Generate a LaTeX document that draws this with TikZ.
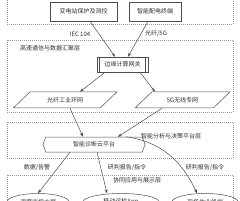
\documentclass[tikz,border=0pt]{standalone}
\usepackage{fontspec}
\usepackage{tikz}
\usetikzlibrary{arrows.meta, positioning, shapes.geometric, shapes.symbols}
\newfontfamily\cjk{Noto Sans CJK SC}
\definecolor{linegray}{HTML}{4D4D4D}
\definecolor{layergray}{HTML}{9A9A9A}
\definecolor{textgray}{HTML}{303030}

\begin{document}
\begin{tikzpicture}[
  x=1pt, y=-1pt,
  every node/.style = {font=\cjk\fontsize{6}{7}\selectfont, text=textgray},
  layer/.style = {draw=layergray, dash pattern=on 1pt off 1pt, line width=0.5pt},
  box/.style = {
    rectangle, draw=linegray, line width=0.6pt,
    minimum height=19pt, inner sep=1pt
  },
  gate/.style = {
    rectangle, draw=linegray, line width=0.6pt,
    minimum width=51pt, minimum height=15pt, inner sep=1pt
  },
  net/.style = {
    trapezium, trapezium left angle=40, trapezium right angle=140,
    trapezium stretches=true, draw=linegray, line width=0.5pt,
    minimum height=16pt, inner sep=1pt
  },
  cloud/.style = {
    signal, signal to=west and east, signal pointer angle=140,
    draw=linegray, line width=0.5pt,
    minimum width=102pt, minimum height=15pt, inner sep=1pt
  },
  app/.style = {
    ellipse, draw=linegray, line width=0.5pt,
    minimum height=17pt, inner sep=1pt
  },
  tag/.style = {inner sep=1pt},
  arr/.style = {-{Stealth[length=4pt, width=3pt]}, line width=0.5pt, color=linegray}
]
  \useasboundingbox (0,0) rectangle (240,200);
  \clip (0,0) rectangle (240,200);

  % layers
  \draw[layer] (7,-10) rectangle (233,24);
  \draw[layer] (7,40) rectangle (233,112);
  \draw[layer] (7,122) rectangle (233,158);
  \draw[layer] (7,175) rectangle (233,220);

  \node[tag, anchor=west] (t2) at (19,48)  {高速通信与数据汇聚层};
  \node[tag]              (t3) at (171,136) {智能分析与决策平台层};
  \node[tag]              (t4) at (137,180) {协同应用与展示层};

  % devices
  \node[box, minimum width=67pt] (prot) at (83.5,11.5) {变电站保护及测控};
  \node[box, minimum width=52pt] (dtu)  at (155,11.5)  {智能配电终端};

  \node[gate] (gw) at (122.5,64.5) {边缘计算网关};
  \draw[linegray, line width=0.5pt] ([xshift=3pt]gw.north west) -- ([xshift=3pt]gw.south west);
  \draw[linegray, line width=0.5pt] ([xshift=-3pt]gw.north east) -- ([xshift=-3pt]gw.south east);

  \node[net, minimum width=104pt] (ring) at (65,100)    {光纤工业环网};
  \node[net, minimum width=95pt]  (g5)   at (182.5,100) {5G无线专网};

  \node[cloud] (cp) at (94,144.5) {智能诊断云平台};

  \node[app, minimum width=62pt] (scr) at (38,202)  {调度监控大屏};
  \node[app, minimum width=76pt] (mob) at (121,202) {移动运检App};
  \node[app, minimum width=66pt] (fld) at (205,202) {现场作业终端};

  % links
  \draw[arr] ([xshift=6.5pt]prot.south) -- ([xshift=-7.5pt]gw.north);
  \draw[arr] ([xshift=-7pt]dtu.south)   -- ([xshift=5.5pt]gw.north);
  \node[tag] (l1) at (80,34)  {IEC 104};
  \node[tag] (l2) at (156,34) {光纤/5G};

  \draw[arr] ([xshift=-17.5pt]gw.south) -- ([xshift=15pt]ring.north);
  \draw[arr] ([xshift=17.5pt]gw.south)  -- ([xshift=-27.5pt]g5.north);

  \draw[arr] ([xshift=5pt]ring.south)  -- ([xshift=-11pt]cp.north);
  \draw[arr] ([xshift=-20.5pt]g5.south) -- ([xshift=24pt]cp.north);

  \draw[arr] ([xshift=-24pt]cp.south) -- (scr.north);
  \draw[arr] ([xshift=3pt]cp.south)   -- ([xshift=-14pt]mob.north);
  \draw[arr] ([xshift=32pt]cp.north) to[out=-8, in=115] ([xshift=-8pt]fld.north);
  \node[tag] (l3) at (37,168)  {数据/告警};
  \node[tag] (l4) at (127,168) {研判报告/指令};
  \node[tag] (l5) at (205,168) {研判报告/指令};
\end{tikzpicture}
\end{document}
